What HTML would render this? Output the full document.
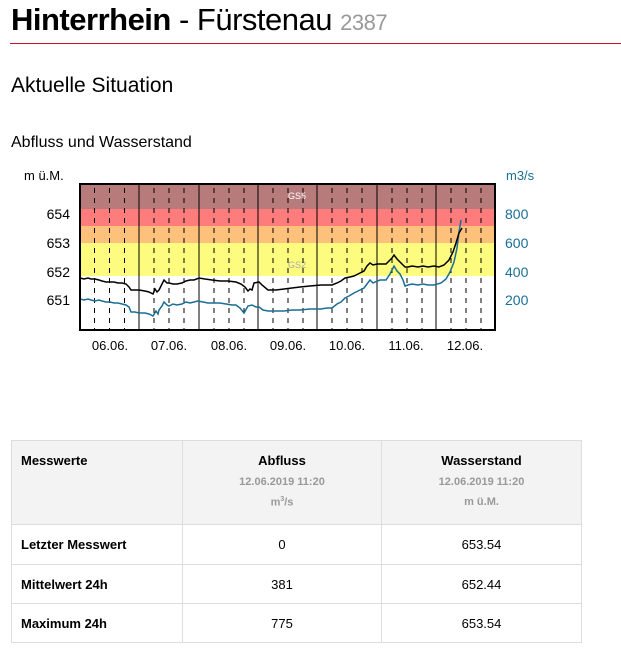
<!DOCTYPE html>
<html><head><meta charset="utf-8"><style>
body{margin:0;width:621px;height:656px;background:#fff;font-family:"Liberation Sans",sans-serif;position:relative;overflow:hidden;color:#000}
.a{position:absolute;white-space:nowrap}
table{position:absolute;left:11px;top:440px;border-collapse:collapse;font-size:13px;width:570px;table-layout:fixed}
td{border:1px solid #ddd;padding:0 9px}
th{border:1px solid #ddd;background:#f3f3f3;vertical-align:top;padding-top:12px}
.s{color:#999;font-size:11px;font-weight:bold;display:block;margin-top:8px}
</style></head><body>
<div class="a" style="left:11px;top:2px;font-size:31px;letter-spacing:-0.5px"><b>Hinterrhein</b> - Fürstenau <span style="color:#999;font-size:22px">2387</span></div>
<div class="a" style="left:10px;top:43px;width:611px;height:1px;background:#c8102e"></div>
<div class="a" style="left:11px;top:74px;font-size:21px">Aktuelle Situation</div>
<div class="a" style="left:11px;top:134px;font-size:16px">Abfluss und Wasserstand</div>
<svg class="a" style="left:0;top:0" width="621" height="400">
<rect x="80" y="184" width="415" height="25" fill="#b77b7b"/>
<rect x="80" y="209" width="415" height="17" fill="#fe7c7c"/>
<rect x="80" y="226" width="415" height="17" fill="#fdc17b"/>
<rect x="80" y="243" width="415" height="33" fill="#fdfc7e"/>
<text x="297" y="199" font-size="9" fill="#fff" text-anchor="middle" font-family="Liberation Sans">GS5</text>
<text x="297" y="268" font-size="9" fill="#aaa" text-anchor="middle" font-family="Liberation Sans">GS2</text>
<g stroke="#000" stroke-width="1" stroke-dasharray="5,5">
<path d="M94.5 188V330M109.5 188V330M124.5 188V330M154 188V330M169 188V330M184 188V330M214 188V330M229 188V330M244 188V330M273 188V330M288 188V330M303 188V330M332 188V330M347 188V330M362 188V330M392 188V330M407 188V330M422 188V330M451 188V330M466 188V330M481 188V330"/>
</g>
<g stroke="#000" stroke-width="1"><path d="M139 184V330M199 184V330M258 184V330M317 184V330M377 184V330M436 184V330"/></g>
<g fill="none" stroke-width="1.5">
<polyline stroke="#1a6e94" points="80,299 84,300 88,299 91,300 95,301 99,300 102,301 106,302 110,302 114,303 118,303 122,304 126,305 129,307 131,312 135,312 139,313 145,313 149,314 153,316 156,311 158,314 159,310 162,306 164,302 167,305 169,306 173,304 177,305 182,304 186,302 190,303 194,302 198,301 203,302 208,303 214,303 220,303 226,304 232,305 236,305 240,308 244,313 248,306 252,305 256,307 259,307 263,310 268,311 276,311 284,311 292,310 300,310 310,309 321,309 327,308 332,308 337,304 341,302 345,298 349,296 354,293 358,291 364,288 367,284 370,280 373,283 375,282 380,280 386,280 390,274 392,270 394,266 397,271 400,274 403,280 405,286 408,285 412,284 418,285 423,284 428,285 434,285 441,283 446,279 450,272 454,262 457,248 459,232 461,220"/>
<polyline stroke="#000" points="80,278 84,279 88,278 91,279 95,279 99,280 102,281 106,282 110,282 114,282 118,283 122,283 126,284 129,287 131,290 135,290 139,290 145,291 149,292 153,294 155,289 157,292 159,290 162,284 164,280 167,283 169,283 173,284 177,284 182,283 186,281 190,280 194,280 199,278 205,279 212,280 220,281 228,281 236,282 241,284 245,287 248,291 250,289 252,290 254,283 259,282 262,285 268,290 276,290 284,289 292,288 300,287 310,286 321,285 332,285 337,283 341,281 345,278 350,277 354,276 358,274 364,271 367,266 370,263 373,265 377,264 380,264 386,264 390,260 392,258 394,255 397,259 400,262 403,265 405,267 408,267 412,266 418,267 423,266 428,267 434,266 439,267 444,265 449,260 453,252 456,243 459,233 462,228"/>
</g>
<rect x="80" y="184" width="415" height="146" fill="none" stroke="#000" stroke-width="2"/>
<g font-family="Liberation Sans" font-size="14" fill="#000">
<text x="24" y="180" font-size="13">m ü.M.</text>
<text x="70" y="219" text-anchor="end">654</text><text x="70" y="248" text-anchor="end">653</text>
<text x="70" y="277" text-anchor="end">652</text><text x="70" y="305" text-anchor="end">651</text>
</g>
<g font-family="Liberation Sans" font-size="14" fill="#1a6e94">
<text x="506" y="180" font-size="13">m3/s</text>
<text x="505" y="219">800</text><text x="505" y="248">600</text><text x="505" y="277">400</text><text x="505" y="305">200</text>
</g>
<g font-family="Liberation Sans" font-size="13" fill="#000" text-anchor="middle">
<text x="110" y="350">06.06.</text><text x="169" y="350">07.06.</text><text x="229" y="350">08.06.</text><text x="288" y="350">09.06.</text><text x="347" y="350">10.06.</text><text x="406" y="350">11.06.</text><text x="465" y="350">12.06.</text>
</g>
</svg>
<table>
<colgroup><col style="width:171px"><col style="width:199px"><col style="width:200px"></colgroup>
<tr style="height:84px"><th style="text-align:left;padding-left:9px">Messwerte</th><th>Abfluss<span class="s">12.06.2019 11:20</span><span class="s">m<sup style="font-size:7px">3</sup>/s</span></th><th>Wasserstand<span class="s">12.06.2019 11:20</span><span class="s">m ü.M.</span></th></tr>
<tr style="height:40px"><td><b>Letzter Messwert</b></td><td align="center">0</td><td align="center">653.54</td></tr>
<tr style="height:39px"><td><b>Mittelwert 24h</b></td><td align="center">381</td><td align="center">652.44</td></tr>
<tr style="height:39px"><td><b>Maximum 24h</b></td><td align="center">775</td><td align="center">653.54</td></tr>
</table>
</body></html>
